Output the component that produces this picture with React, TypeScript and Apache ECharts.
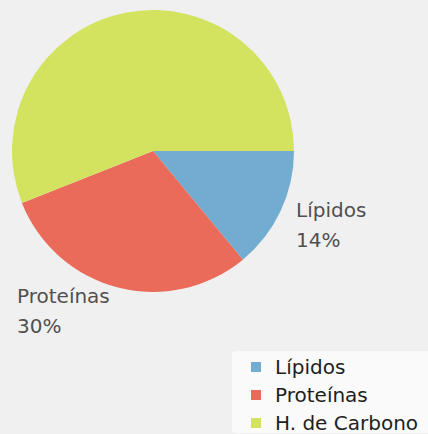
import React, { useEffect, useRef } from "react";
import * as echarts from "echarts";

const categories = ["Lípidos", "Proteínas", "H. de Carbono"];
const values = [14, 30, 56];
const colors = ["#72acd0", "#eb6b5b", "#d4e35f"];

export default function App() {
  const ref = useRef<HTMLDivElement>(null);
  useEffect(() => {
    document.body.style.margin = "0";
    const chart = echarts.init(ref.current!, null, { renderer: "svg" });
    const labelPos: Record<number, [number, number]> = {
      0: [296, 195],
      1: [17, 281],
    };
    chart.setOption({
      animation: false,
      backgroundColor: "#f0f0f0",
      color: colors,
      legend: {
        orient: "vertical",
        left: 232,
        top: 351,
        backgroundColor: "#fafafa",
        borderRadius: 4,
        padding: [6, 20, 0, 19],
        itemWidth: 10,
        itemHeight: 10,
        itemGap: 8,
        icon: "rect",
        data: categories,
        textStyle: {
          fontFamily: "DejaVu Sans",
          fontSize: 20,
          lineHeight: 20,
          color: "#1e1e1e",
          padding: [0, 0, 0, 9],
        },
      },
      series: [
        {
          type: "pie",
          center: [153, 151],
          radius: 141,
          startAngle: 0,
          clockwise: true,
          avoidLabelOverlap: false,
          labelLine: { show: false },
          label: {
            show: true,
            position: "outside",
            formatter: "{b}\n{d}%",
            fontFamily: "DejaVu Sans",
            fontSize: 20,
            lineHeight: 30,
            color: "#505050",
          },
          labelLayout: (p: any) => {
            const pos = labelPos[p.dataIndex];
            if (!pos) return { x: -1000, y: -1000 };
            return { x: pos[0], y: pos[1], align: "left", verticalAlign: "top" };
          },
          data: categories.map((name, i) => ({
            name,
            value: values[i],
            label: i === 2 ? { show: false } : undefined,
          })),
        },
      ],
    });
    return () => chart.dispose();
  }, []);
  return <div ref={ref} style={{ width: 428, height: 434 }} />;
}
